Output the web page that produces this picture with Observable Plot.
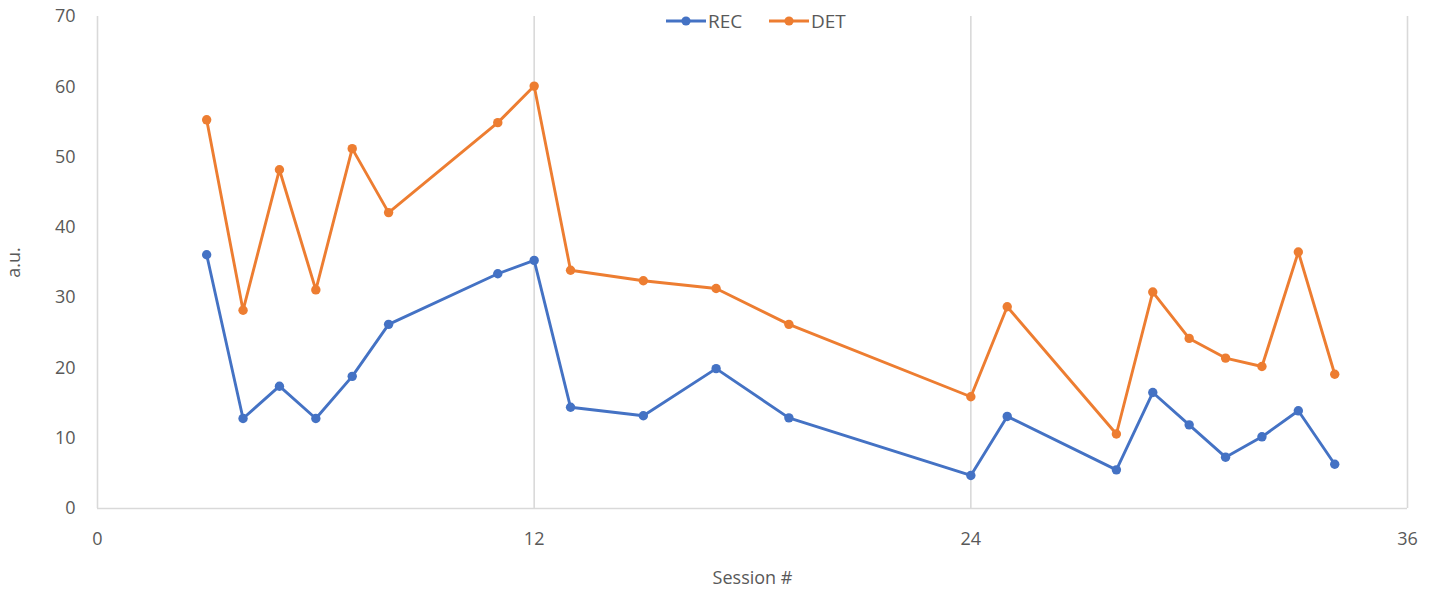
<!DOCTYPE html>
<html>
<head>
<meta charset="utf-8">
<script src="https://cdn.jsdelivr.net/npm/d3@7"></script>
<script src="https://cdn.jsdelivr.net/npm/@observablehq/plot@0.6"></script>
<style>
  html, body { margin: 0; padding: 0; background: #fff; }
  #wrap { position: relative; width: 1429px; height: 593px; font-family: "Open Sans", sans-serif; color: #595959; }
  #legend { position: absolute; top: 8px; left: 0; width: 1429px; height: 26px; }
  #legend .item { position: absolute; top: 0; display: flex; align-items: center; font-size: 19px; color: #595959; }
</style>
</head>
<body>
<div id="wrap">
  <div id="chart"></div>
  <div id="legend"></div>
</div>
<script>
const sessions = [3, 4, 5, 6, 7, 8, 11, 12, 13, 15, 17, 19, 24, 25, 28, 29, 30, 31, 32, 33, 34];
const recValues = [36.1, 12.8, 17.4, 12.8, 18.8, 26.2, 33.4, 35.3, 14.4, 13.2, 19.9, 12.9, 4.7, 13.1, 5.5, 16.5, 11.9, 7.3, 10.2, 13.9, 6.3];
const detValues = [55.3, 28.2, 48.2, 31.1, 51.2, 42.1, 54.9, 60.1, 33.9, 32.4, 31.3, 26.2, 15.9, 28.7, 10.6, 30.8, 24.2, 21.4, 20.2, 36.5, 19.1];
const seriesNames = ["REC", "DET"];
const seriesColors = ["#4472C4", "#ED7D31"];
const xTicks = [0, 12, 24, 36];
const yTicks = [0, 10, 20, 30, 40, 50, 60, 70];

const data = [];
sessions.forEach((s, i) => {
  data.push({series: "REC", session: s, value: recValues[i]});
  data.push({series: "DET", session: s, value: detValues[i]});
});

const chart = Plot.plot({
  width: 1429,
  height: 593,
  marginLeft: 97,
  marginRight: 22,
  marginTop: 16,
  marginBottom: 85,
  style: {fontFamily: "Open Sans, sans-serif", fontSize: "18px", color: "#595959", background: "#fff"},
  x: {domain: [0, 36]},
  y: {domain: [0, 70]},
  color: {domain: seriesNames, range: seriesColors},
  marks: [
    Plot.ruleX(xTicks, {stroke: "#d9d9d9", strokeWidth: 1.6}),
    Plot.ruleY([0], {stroke: "#d9d9d9", strokeWidth: 1.6}),
    Plot.axisX({ticks: xTicks, tickSize: 0, tickPadding: 24, fontSize: 18, label: "Session #", labelAnchor: "center", labelArrow: "none", labelOffset: 75}),
    Plot.axisY({ticks: yTicks, tickSize: 0, tickPadding: 22, fontSize: 18, label: "a.u.", labelAnchor: "center", labelArrow: "none", labelOffset: 90}),
    Plot.line(data, {x: "session", y: "value", stroke: "series", strokeWidth: 2.9, curve: "linear"}),
    Plot.dot(data, {x: "session", y: "value", fill: "series", r: 4.7, stroke: "none"})
  ]
});
document.getElementById("chart").appendChild(chart);

// legend
const legend = document.getElementById("legend");
const legendX = [666, 769];
seriesNames.forEach((name, i) => {
  const item = document.createElement("div");
  item.className = "item";
  item.style.left = legendX[i] + "px";
  item.innerHTML = `<svg width="40" height="24"><line x1="0" y1="12" x2="40" y2="12" stroke="${seriesColors[i]}" stroke-width="2.8"/><circle cx="20" cy="12" r="4.6" fill="${seriesColors[i]}"/></svg><span style="margin-left:2px">${name}</span>`;
  legend.appendChild(item);
});
</script>
</body>
</html>
